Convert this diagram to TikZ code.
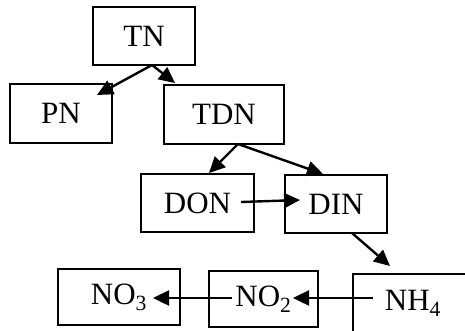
\documentclass[tikz,border=0pt]{standalone}
\usepackage{fontspec}
\setmainfont{Liberation Serif}
\usetikzlibrary{arrows.meta}
\begin{document}
\begin{tikzpicture}[x=1pt,y=-1pt,
  box/.style={draw,line width=2pt,minimum height=58pt,inner sep=0pt,font=\fontsize{31}{32}\selectfont},
  arr/.style={line width=2.4pt,-{Triangle[length=16pt,width=15pt]}}]
\useasboundingbox (0,0) rectangle (465,330);
\begin{scope}
\clip (0,0) rectangle (465,330);
\node[box,minimum width=102pt] (TN) at (144,36) {TN};
\node[box,minimum width=102pt,minimum height=59pt] (PN) at (61,113.5) {PN};
\node[box,minimum width=120pt,minimum height=59pt] (TDN) at (224,114.5) {TDN};
\node[box,minimum width=113pt] (DON) at (197.5,203) {DON};
\node[box,minimum width=102pt] (DIN) at (336,204) {DIN};
\node[box,minimum width=120pt] (NH4) at (413,303) {NH\textsubscript{4}};
\node[box,minimum width=109pt,minimum height=56pt] (NO2) at (263.5,299) {NO\textsubscript{2}};
\node[box,minimum width=122pt,minimum height=56pt] (NO3) at (119,297) {NO\textsubscript{3}};
\end{scope}
\coordinate (tnS) at (152,65);
\coordinate (pnE) at (97,95);
\coordinate (tdnE) at (175,83);
\coordinate (tdnS) at (238,144);
\coordinate (donE) at (209,173);
\coordinate (dinE) at (323,174);
\coordinate (donS) at (241,202);
\coordinate (dinE2) at (300,200);
\coordinate (dinS) at (352,233);
\coordinate (nhE) at (390,266);
\coordinate (nhS) at (373,298);
\coordinate (no2E) at (293,298);
\coordinate (no2S) at (232,298);
\coordinate (no3E) at (153,298);
\draw[arr] (tnS) -- (pnE);
\draw[arr] (tnS) -- (tdnE);
\draw[arr] (tdnS) -- (donE);
\draw[arr] (tdnS) -- (dinE);
\draw[arr] (donS) -- (dinE2);
\draw[arr] (dinS) -- (nhE);
\draw[arr] (nhS) -- (no2E);
\draw[arr] (no2S) -- (no3E);
\end{tikzpicture}
\end{document}
